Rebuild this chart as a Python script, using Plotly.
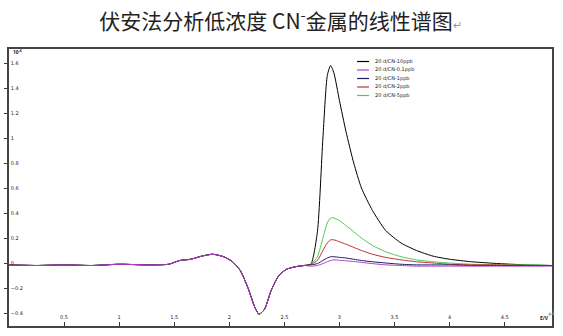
import plotly.graph_objects as go

# ---- data ----
x_vals = [0, 0.25, 0.5, 0.75, 1.0, 1.25, 1.45, 1.55, 1.65, 1.75, 1.85, 1.95, 2.03, 2.10,
          2.17, 2.23, 2.27, 2.32, 2.38, 2.45, 2.52, 2.60, 2.68, 2.74, 2.80, 2.85, 2.89,
          2.92, 2.95, 3.00, 3.06, 3.13, 3.20, 3.30, 3.42, 3.56, 3.70, 3.85, 4.00, 4.20,
          4.45, 4.70, 4.93]

common = [-0.015, -0.02, -0.015, -0.02, -0.01, -0.015, -0.01, 0.02, 0.03, 0.055, 0.07,
          0.05, 0.01, -0.06, -0.2, -0.35, -0.41, -0.37, -0.22, -0.1, -0.05, -0.03, -0.02]

y_10ppb = common + [-0.01, 0.25, 1.0, 1.5, 1.58, 1.52, 1.3, 1.05, 0.8, 0.6, 0.42, 0.26,
                    0.16, 0.1, 0.055, 0.03, 0.01, -0.005, -0.015, -0.02]
y_01ppb = common + [-0.025, -0.02, -0.005, 0.01, 0.02, 0.025, 0.022, 0.018, 0.012, 0.005,
                    -0.005, -0.015, -0.02, -0.025, -0.025, -0.025, -0.025, -0.025,
                    -0.025, -0.025]
y_1ppb = common + [-0.015, -0.005, 0.02, 0.04, 0.05, 0.05, 0.045, 0.04, 0.03, 0.02, 0.01,
                   0.0, -0.01, -0.015, -0.015, -0.015, -0.02, -0.02, -0.02, -0.02]
y_2ppb = common + [-0.01, 0.02, 0.1, 0.16, 0.185, 0.185, 0.17, 0.15, 0.125, 0.1, 0.07,
                   0.045, 0.025, 0.01, 0.0, -0.01, -0.015, -0.015, -0.02, -0.02]
y_5ppb = common + [-0.01, 0.05, 0.2, 0.32, 0.36, 0.36, 0.34, 0.3, 0.25, 0.2, 0.14, 0.09,
                   0.05, 0.025, 0.01, 0.0, -0.01, -0.015, -0.015, -0.02]

series_names = ["20 d/CN-10ppb", "20 d/CN-0.1ppb", "20 d/CN-1ppb", "20 d/CN-2ppb", "20 d/CN-5ppb"]
series_vals = [y_10ppb, y_01ppb, y_1ppb, y_2ppb, y_5ppb]
series_colors = ["#000000", "#b040c8", "#1c1c60", "#c03030", "#50c850"]

y_ticks = [-0.4, -0.2, 0, 0.2, 0.4, 0.6, 0.8, 1.0, 1.2, 1.4, 1.6]
x_ticks = [0.5, 1, 1.5, 2, 2.5, 3, 3.5, 4, 4.5]

title_text = "伏安法分析低浓度 CN<sup>-</sup>金属的线性谱图<span style='font-size:11px;color:#999'>↵</span>"

# ---- figure ----
fig = go.Figure()
# draw in order so black is under the others in baseline, like reference
order = [0, 4, 3, 2, 1]
for i in order:
    fig.add_trace(go.Scatter(x=x_vals, y=series_vals[i], mode="lines", name=series_names[i],
                             line=dict(color=series_colors[i], width=1, shape="spline", smoothing=0.6),
                             showlegend=False))

L, R, T, B = 6, 11, 49, 10
W, H = 563, 336
pw, ph = W - L - R, H - T - B

def px_to_paper(px, py):
    return (px - L) / pw, (H - B - py) / ph

# custom compact legend
for i, name in enumerate(series_names):
    py = 61.5 + 8.5 * i
    x0, y0 = px_to_paper(356, py)
    x1, _ = px_to_paper(368, py)
    fig.add_shape(type="line", xref="paper", yref="paper", x0=x0, x1=x1, y0=y0, y1=y0,
                  line=dict(color=series_colors[i], width=1.2))
    tx, _ = px_to_paper(372, py)
    fig.add_annotation(xref="paper", yref="paper", x=tx, y=y0, text=name, showarrow=False,
                       xanchor="left", yanchor="middle",
                       font=dict(size=5, color="#222", family="DejaVu Sans"))

# exponent label and unit
ex, ey = px_to_paper(8, 51)
fig.add_annotation(xref="paper", yref="paper", x=ex, y=ey, text="<b>10<sup>-6</sup></b>", showarrow=False,
                   xanchor="left", yanchor="middle", font=dict(size=5, color="#222"))
ux, uy = px_to_paper(551, 318)
fig.add_annotation(xref="paper", yref="paper", x=ux, y=uy, text="<b>E/V</b>", showarrow=False,
                   xanchor="right", yanchor="middle", font=dict(size=5, color="#222"))
fig.add_annotation(xref="paper", yref="paper", x=(558 - L) / pw, y=(H - B - 322) / ph, text="↵",
                   showarrow=False, font=dict(size=9, color="#999"))

fig.update_layout(
    width=W, height=H,
    margin=dict(l=L, r=R, t=T, b=B),
    paper_bgcolor="white", plot_bgcolor="white",
    title=dict(text=title_text, x=0.5, xref="paper", y=1 - 22 / H, yanchor="middle",
               xanchor="center",
               font=dict(size=21, color="#222", family="Noto Sans CJK SC")),
    showlegend=False,
)
fig.update_xaxes(range=[0, 4.93], tickvals=x_ticks, ticks="inside", ticklen=4, tickwidth=1,
                 tickcolor="#333", ticklabelposition="inside",
                 tickfont=dict(size=5, color="#222", family="DejaVu Sans"),
                 showgrid=False, zeroline=False, showline=True, linecolor="#444", linewidth=1.5,
                 mirror=True)
fig.update_yaxes(range=[-0.504, 1.712], tickvals=y_ticks, ticks="outside", ticklen=3, tickwidth=1,
                 tickcolor="#333", ticklabelposition="inside",
                 tickfont=dict(size=5, color="#222", family="DejaVu Sans"),
                 showgrid=False, zeroline=False, showline=True, linecolor="#444", linewidth=1.5,
                 mirror=True)

fig.write_html("out.html")
